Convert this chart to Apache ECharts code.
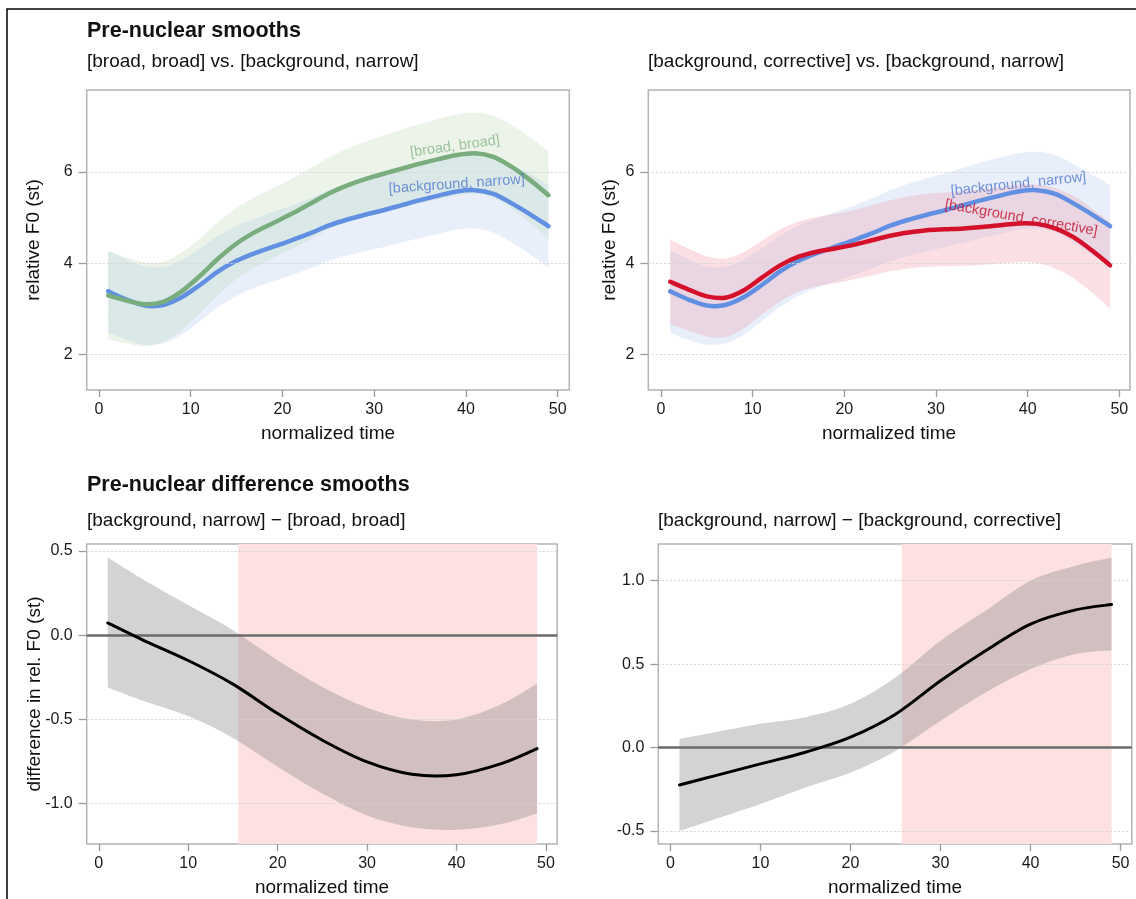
<!DOCTYPE html>
<html>
<head>
<meta charset="utf-8">
<script src="https://cdn.jsdelivr.net/npm/echarts@6/dist/echarts.min.js"></script>
<style>
html,body{margin:0;padding:0;background:#fff;}
#chart{width:1136px;height:899px;}
</style>
</head>
<body>
<div id="chart"></div>
<script>
// ---------- data ----------
const X_TICKS = [0, 10, 20, 30, 40, 50];
const Y_TICKS_TOP = [2, 4, 6];
const Y_TICKS_D1 = [-1.0, -0.5, 0.0, 0.5];
const Y_TICKS_D2 = [-0.5, 0.0, 0.5, 1.0];

const T_TOP = [1,3,5,7,9,11,13,15,17,19,21,23,25,27,29,31,33,35,37,39,41,43,45,47,49];

// [broad, broad]
const BB_MEAN = [3.29,3.18,3.10,3.15,3.38,3.72,4.10,4.43,4.68,4.88,5.08,5.30,5.52,5.70,5.84,5.96,6.07,6.18,6.28,6.37,6.41,6.33,6.11,5.82,5.49];
const BB_UP   = [4.25,4.12,4.02,4.03,4.23,4.54,4.90,5.21,5.45,5.65,5.85,6.08,6.31,6.50,6.66,6.80,6.93,7.05,7.16,7.26,7.30,7.23,7.03,6.76,6.45];
const BB_LO   = [2.33,2.24,2.18,2.27,2.53,2.90,3.30,3.65,3.91,4.11,4.31,4.52,4.73,4.90,5.02,5.12,5.21,5.31,5.40,5.48,5.52,5.43,5.19,4.88,4.53];

// [background, narrow]
const BN_MEAN = [3.38,3.20,3.07,3.08,3.25,3.52,3.82,4.05,4.22,4.36,4.50,4.65,4.82,4.95,5.06,5.16,5.27,5.38,5.48,5.57,5.60,5.52,5.31,5.07,4.81];
const BN_UP   = [4.28,4.08,3.93,3.92,4.07,4.32,4.60,4.82,4.98,5.12,5.26,5.42,5.60,5.74,5.86,5.97,6.09,6.21,6.32,6.41,6.44,6.37,6.17,5.95,5.71];
const BN_LO   = [2.48,2.32,2.21,2.24,2.43,2.72,3.04,3.28,3.46,3.60,3.74,3.88,4.04,4.16,4.26,4.35,4.45,4.55,4.64,4.73,4.76,4.67,4.45,4.19,3.91];

// [background, corrective]
const BC_MEAN = [3.59,3.42,3.27,3.24,3.40,3.68,3.95,4.14,4.25,4.32,4.40,4.50,4.60,4.67,4.72,4.74,4.76,4.79,4.83,4.87,4.86,4.76,4.57,4.28,3.95];
const BC_UP   = [4.52,4.32,4.15,4.10,4.24,4.49,4.74,4.91,5.01,5.08,5.16,5.27,5.38,5.46,5.52,5.55,5.58,5.62,5.67,5.72,5.72,5.64,5.47,5.20,4.90];
const BC_LO   = [2.66,2.52,2.39,2.38,2.56,2.87,3.16,3.37,3.49,3.56,3.64,3.73,3.82,3.88,3.92,3.93,3.94,3.96,3.99,4.02,4.00,3.88,3.67,3.36,3.00];

const T_DIFF = [1,5,10,15,20,25,30,35,40,45,49];
// [background, narrow] - [broad, broad]
const D1_MEAN = [0.073,-0.03,-0.15,-0.29,-0.465,-0.623,-0.752,-0.825,-0.828,-0.762,-0.673];
const D1_UP   = [0.461,0.33,0.18,0.03,-0.148,-0.307,-0.43,-0.50,-0.50,-0.41,-0.287];
const D1_LO   = [-0.31,-0.39,-0.48,-0.61,-0.78,-0.94,-1.07,-1.14,-1.155,-1.12,-1.058];
const D1_SIG  = [15.6, 49];
// [background, narrow] - [background, corrective]
const D2_MEAN = [-0.224,-0.168,-0.098,-0.028,0.062,0.20,0.40,0.58,0.74,0.825,0.857];
const D2_UP   = [0.052,0.092,0.142,0.182,0.262,0.42,0.64,0.82,1.0,1.09,1.137];
const D2_LO   = [-0.50,-0.428,-0.338,-0.24,-0.15,-0.02,0.16,0.33,0.47,0.56,0.581];
const D2_SIG  = [25.7, 49];

// ---------- helpers ----------
const FONT = "'Liberation Sans', Arial, Helvetica, sans-serif";
const zip = (t, v) => t.map((x, i) => [x, v[i]]);

// Catmull-Rom spline through pixel points -> SVG path commands (rendering only)
function pt(p) { return p[0].toFixed(2) + ' ' + p[1].toFixed(2); }
function curveThrough(P) {
  let d = '';
  const n = P.length;
  for (let i = 0; i < n - 1; i++) {
    const p0 = P[Math.max(i - 1, 0)], p1 = P[i], p2 = P[i + 1], p3 = P[Math.min(i + 2, n - 1)];
    const c1 = [p1[0] + (p2[0] - p0[0]) / 6, p1[1] + (p2[1] - p0[1]) / 6];
    const c2 = [p2[0] - (p3[0] - p1[0]) / 6, p2[1] - (p3[1] - p1[1]) / 6];
    d += ' C' + pt(c1) + ' ' + pt(c2) + ' ' + pt(p2);
  }
  return d;
}
function bandSeries(gi, t, lo, up, color, z, extras) {
  return Object.assign({
    type: 'custom', xAxisIndex: gi, yAxisIndex: gi, data: zip(t, lo), silent: true, z: z, clip: true,
    encode: { x: 0, y: 1 },
    renderItem: function (params, api) {
      if (params.dataIndex !== 0) return null;
      const U = t.map((x, i) => api.coord([x, up[i]]));
      const L = t.map((x, i) => api.coord([x, lo[i]])).reverse();
      const d = 'M' + pt(U[0]) + curveThrough(U) + ' L' + pt(L[0]) + curveThrough(L) + ' Z';
      return { type: 'path', shape: { pathData: d }, style: { fill: color, stroke: null } };
    }
  }, extras || {});
}
function lineSeries(gi, t, v, color, width, z, extras) {
  return Object.assign({
    type: 'custom', xAxisIndex: gi, yAxisIndex: gi, data: zip(t, v), silent: true, z: z, clip: true,
    encode: { x: 0, y: 1 },
    renderItem: function (params, api) {
      if (params.dataIndex !== 0) return null;
      const P = t.map((x, i) => api.coord([x, v[i]]));
      const d = 'M' + pt(P[0]) + curveThrough(P);
      return { type: 'path', shape: { pathData: d }, style: { fill: null, stroke: color, lineWidth: width, lineCap: 'round', lineJoin: 'round' } };
    }
  }, extras || {});
}
function gridLines(values) {
  return {
    silent: true, symbol: 'none', label: { show: false },
    lineStyle: { type: [2, 2], color: '#d4d4d4', width: 1 },
    data: values.map(v => ({ yAxis: v }))
  };
}
function curveLabel(gi, x, y, text, color, rot) {
  return {
    type: 'scatter', xAxisIndex: gi, yAxisIndex: gi, data: [[x, y]], symbolSize: 0, silent: true, z: 10,
    label: { show: true, position: 'inside', formatter: text, color: color, fontSize: 14.5, fontFamily: FONT, rotate: rot }
  };
}
function xAxisDef(gi, min, max) {
  return {
    type: 'value', gridIndex: gi, min: min, max: max,
    axisLine: { show: false, onZero: false },
    splitLine: { show: false },
    axisTick: { show: true, customValues: X_TICKS, length: 7, lineStyle: { color: '#9c9c9c', width: 1.3 } },
    axisLabel: { customValues: X_TICKS, color: '#1a1a1a', fontSize: 16, fontFamily: FONT, margin: 12 }
  };
}
function yAxisDef(gi, min, max, ticks, fmt) {
  return {
    type: 'value', gridIndex: gi, min: min, max: max,
    axisLine: { show: false, onZero: false },
    splitLine: { show: false },
    axisTick: { show: true, customValues: ticks, length: 8, lineStyle: { color: '#9c9c9c', width: 1.3 } },
    axisLabel: { customValues: ticks, color: '#1a1a1a', fontSize: 16, fontFamily: FONT, margin: 14, formatter: fmt }
  };
}
function txt(x, y, text, size, weight, rot, align) {
  return {
    type: 'text', x: x, y: y, rotation: rot || 0, silent: true,
    style: { text: text, fill: '#111', font: (weight || 'normal') + ' ' + size + 'px ' + FONT,
      align: align || 'left', verticalAlign: 'middle', textAlign: align || 'left', textVerticalAlign: 'middle' }
  };
}

// ---------- colours ----------
const GREEN = '#7aad7e', BLUE = '#6190e3', RED = '#d5102b';
const GREEN_BAND = 'rgba(176,210,168,0.24)';
const BLUE_BAND = 'rgba(160,190,240,0.24)';
const RED_BAND = 'rgba(240,160,175,0.32)';
const GRAY_BAND = 'rgba(125,125,125,0.34)';
const PINK = '#fde1e1';

const grids = [
  { left: 86.7, top: 90, width: 482.6, height: 300 },
  { left: 648.3, top: 90, width: 481.7, height: 300 },
  { left: 86.7, top: 544, width: 470.5, height: 300 },
  { left: 658.3, top: 544, width: 473.5, height: 300 }
].map(g => Object.assign(g, { show: true, borderColor: '#b4b4b4', borderWidth: 1.5, backgroundColor: 'transparent', containLabel: false }));

const fmtInt = v => String(Math.round(v));
const fmt1 = v => v.toFixed(1);
const zeroLine = { silent: true, symbol: 'none', label: { show: false }, lineStyle: { type: 'solid', color: '#6b6b6b', width: 2.5 }, data: [{ yAxis: 0 }] };

const series = [
  // panel 1
  bandSeries(0, T_TOP, BN_LO, BN_UP, BLUE_BAND, 1, { markLine: gridLines(Y_TICKS_TOP) }),
  bandSeries(0, T_TOP, BB_LO, BB_UP, GREEN_BAND, 2),
  lineSeries(0, T_TOP, BN_MEAN, BLUE, 4.5, 4),
  lineSeries(0, T_TOP, BB_MEAN, GREEN, 4.5, 5),
  curveLabel(0, 38.8, 6.56, '[broad, broad]', '#86b688', 8),
  curveLabel(0, 39, 5.73, '[background, narrow]', '#5078d0', 4),
  // panel 2
  bandSeries(1, T_TOP, BN_LO, BN_UP, BLUE_BAND, 1, { markLine: gridLines(Y_TICKS_TOP) }),
  bandSeries(1, T_TOP, BC_LO, BC_UP, RED_BAND, 2),
  lineSeries(1, T_TOP, BN_MEAN, BLUE, 4.5, 4),
  lineSeries(1, T_TOP, BC_MEAN, RED, 4.5, 5),
  curveLabel(1, 39, 5.73, '[background, narrow]', '#5078d0', 6),
  curveLabel(1, 39.3, 4.99, '[background, corrective]', '#c4122c', -10),
  // panel 3
  bandSeries(2, T_DIFF, D1_LO, D1_UP, GRAY_BAND, 2, {
    markLine: gridLines([-1.0, -0.5, 0.5]),
    markArea: { silent: true, itemStyle: { color: PINK }, data: [[{ xAxis: D1_SIG[0] }, { xAxis: D1_SIG[1] }]] }
  }),
  lineSeries(2, T_DIFF, D1_MEAN, '#000', 3, 5, { markLine: zeroLine }),
  // panel 4
  bandSeries(3, T_DIFF, D2_LO, D2_UP, GRAY_BAND, 2, {
    markLine: gridLines([-0.5, 0.5, 1.0]),
    markArea: { silent: true, itemStyle: { color: PINK }, data: [[{ xAxis: D2_SIG[0] }, { xAxis: D2_SIG[1] }]] }
  }),
  lineSeries(3, T_DIFF, D2_MEAN, '#000', 3, 5, { markLine: zeroLine })
];

const option = {
  animation: false,
  backgroundColor: '#ffffff',
  textStyle: { fontFamily: FONT },
  grid: grids,
  xAxis: [
    xAxisDef(0, -1.34, 51.27),
    xAxisDef(1, -1.39, 51.17),
    xAxisDef(2, -1.35, 51.25),
    xAxisDef(3, -1.35, 51.25)
  ],
  yAxis: [
    yAxisDef(0, 1.217, 7.796, Y_TICKS_TOP, fmtInt),
    yAxisDef(1, 1.217, 7.796, Y_TICKS_TOP, fmtInt),
    yAxisDef(2, -1.239, 0.5415, Y_TICKS_D1, fmt1),
    yAxisDef(3, -0.578, 1.22, Y_TICKS_D2, fmt1)
  ],
  series: series,
  graphic: [
    { type: 'rect', shape: { x: 7, y: 9, width: 1140, height: 900 }, style: { fill: 'none', stroke: '#000', lineWidth: 1.5 }, silent: true },
    txt(87, 31, 'Pre-nuclear smooths', 21.5, 'bold'),
    txt(87, 62, '[broad, broad] vs. [background, narrow]', 19),
    txt(648, 62, '[background, corrective] vs. [background, narrow]', 19),
    txt(87, 485, 'Pre-nuclear difference smooths', 21.5, 'bold'),
    txt(87, 521, '[background, narrow] \u2212 [broad, broad]', 19),
    txt(658, 521, '[background, narrow] \u2212 [background, corrective]', 19),
    txt(328, 434, 'normalized time', 19, 'normal', 0, 'center'),
    txt(889, 434, 'normalized time', 19, 'normal', 0, 'center'),
    txt(322, 888, 'normalized time', 19, 'normal', 0, 'center'),
    txt(895, 888, 'normalized time', 19, 'normal', 0, 'center'),
    txt(34, 240, 'relative F0 (st)', 19, 'normal', Math.PI / 2, 'center'),
    txt(610, 240, 'relative F0 (st)', 19, 'normal', Math.PI / 2, 'center'),
    txt(35, 694, 'difference in rel. F0 (st)', 19, 'normal', Math.PI / 2, 'center')
  ]
};

const chart = echarts.init(document.getElementById('chart'), null, { renderer: 'canvas' });
chart.setOption(option);
</script>
</body>
</html>
